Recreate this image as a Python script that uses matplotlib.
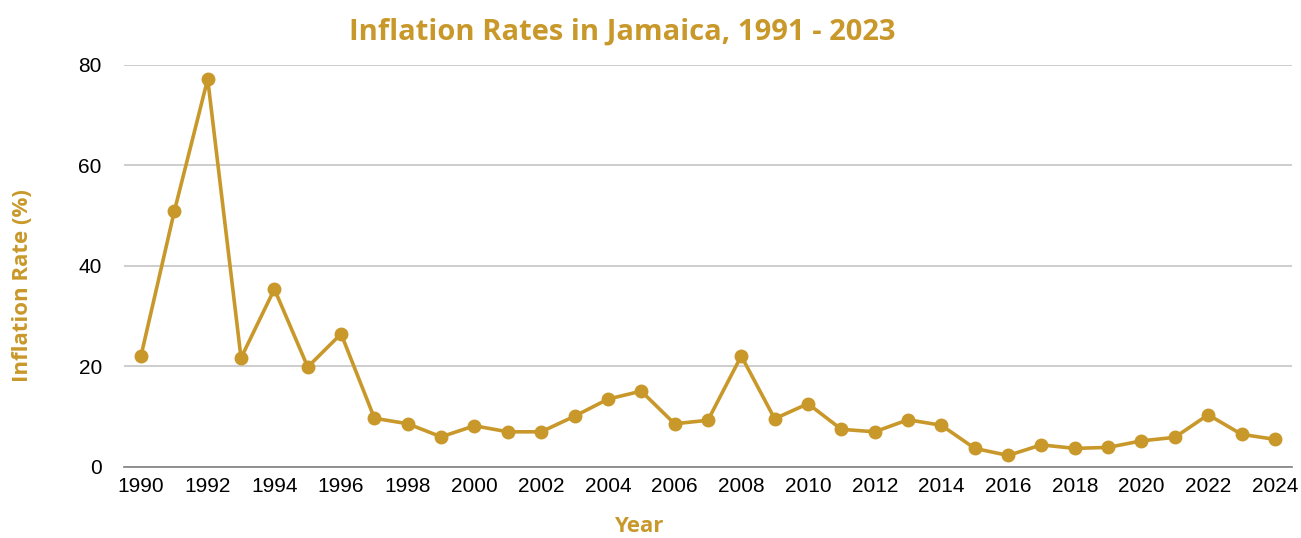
import matplotlib
matplotlib.use("Agg")
import matplotlib.pyplot as plt

years = list(range(1990, 2025))
inflation = [22.1, 50.9, 77.2, 21.7, 35.4, 19.9, 26.5, 9.7, 8.6, 6.0,
             8.2, 7.0, 7.0, 10.1, 13.5, 15.1, 8.6, 9.3, 22.1, 9.6,
             12.6, 7.5, 7.0, 9.4, 8.3, 3.7, 2.3, 4.4, 3.7, 3.9,
             5.2, 5.9, 10.4, 6.5, 5.5]
xticks = list(range(1990, 2025, 2))
yticks = [0, 20, 40, 60, 80]

gold = "#C9982A"

fig = plt.figure(figsize=(13.01, 5.38), dpi=100)
ax = fig.add_axes([0.0953, 0.1320, 0.8977, 0.7472])
ax.plot(years, inflation, color=gold, lw=2.6, marker="o", ms=9, zorder=3)
ax.set_xlim(1989.49, 2024.51)
ax.set_ylim(0, 80)
ax.set_xticks(xticks)
ax.set_yticks(yticks)
for s in ["top", "right", "left"]:
    ax.spines[s].set_visible(False)
ax.spines["bottom"].set_color("#808080")
ax.spines["bottom"].set_linewidth(1.2)
ax.grid(axis="y", color="#C0C0C0", lw=1.1)
ax.set_axisbelow(True)
ax.tick_params(length=0, labelsize=15)
ax.tick_params(axis="x", pad=7)
ax.tick_params(axis="y", pad=16)
for lab in ax.get_xticklabels() + ax.get_yticklabels():
    lab.set_fontfamily("Liberation Sans")

fig.text(0.478, 0.940, "Inflation Rates in Jamaica, 1991 - 2023", ha="center", va="center",
         color=gold, fontsize=21, fontweight="bold", family="Open Sans")
fig.text(0.491, 0.020, "Year", ha="center", va="center",
         color=gold, fontsize=16, fontweight="bold", family="Open Sans")
fig.text(0.017, 0.470, "Inflation Rate (%)", ha="center", va="center", rotation=90,
         color=gold, fontsize=16, fontweight="bold", family="Open Sans")
fig.texts[1].set_position((0.491, 1 - 527 / 538))

fig.savefig("out.png", dpi=100, facecolor="white")
